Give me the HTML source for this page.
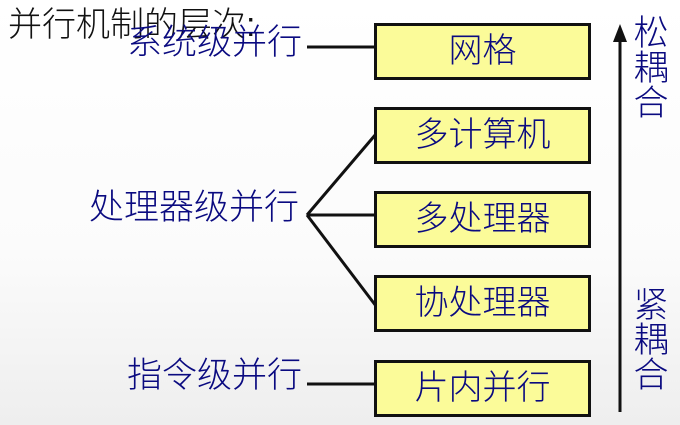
<!DOCTYPE html>
<html><head><meta charset="utf-8"><style>
body{margin:0;width:680px;height:425px;overflow:hidden;background:linear-gradient(180deg,#fff 0%,#fbfbfb 60%,#eee 100%);position:relative;font-family:"Liberation Sans","Noto Sans CJK SC",sans-serif;font-weight:300}
.t{position:absolute;white-space:nowrap;line-height:1}
.b{color:#0a0a80}
.box{position:absolute;left:374px;width:211px;height:51px;background:#fbfb99;border:3px solid #111;color:#0a0a80;font-size:34px;text-align:center;line-height:51px}
.v{position:absolute;left:632px;width:38px;font-size:35px;line-height:35px;color:#0a0a80;text-align:center}
</style></head><body>
<svg width="680" height="425" style="position:absolute;left:0;top:0">
<g stroke="#111" stroke-width="3" fill="none">
<line x1="307" y1="47" x2="376" y2="47"/>
<line x1="307" y1="215" x2="376" y2="134"/>
<line x1="307" y1="215" x2="376" y2="215"/>
<line x1="307" y1="215" x2="376" y2="306"/>
<line x1="307" y1="384" x2="376" y2="384"/>
<line x1="620" y1="412" x2="620" y2="38"/>
</g>
<polygon points="620,24 613,42 627,42" fill="#111"/>
</svg>
<div class="t" style="left:8px;top:8px;font-size:34px;color:#111">并行机制的层次:</div>
<div class="t b" style="left:127px;top:25px;font-size:35px">系统级并行</div>
<div class="t b" style="left:89px;top:190px;font-size:35px">处理器级并行</div>
<div class="t b" style="left:127px;top:358px;font-size:35px">指令级并行</div>
<div class="box" style="top:23px">网格</div>
<div class="box" style="top:107px">多计算机</div>
<div class="box" style="top:191px">多处理器</div>
<div class="box" style="top:275px">协处理器</div>
<div class="box" style="top:360px">片内并行</div>
<div class="v" style="top:16px">松<br>耦<br>合</div>
<div class="v" style="top:288px">紧<br>耦<br>合</div>
</body></html>
